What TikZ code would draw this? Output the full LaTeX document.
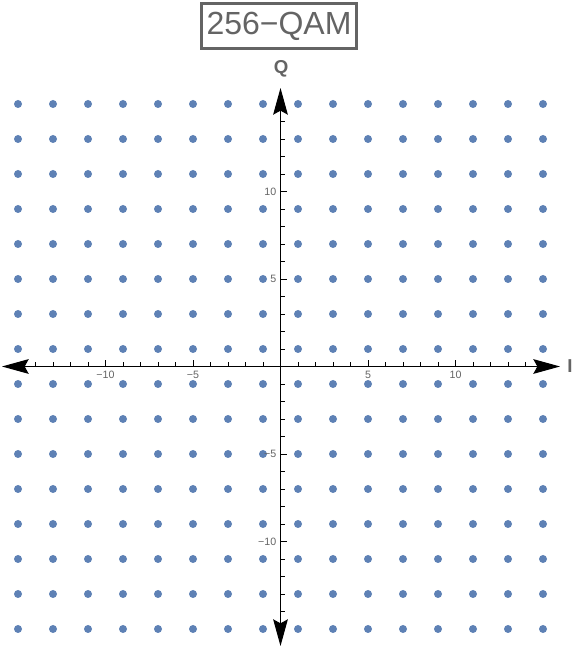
\documentclass[tikz,border=0pt]{standalone}
\usepackage{fontspec}
\setmainfont{Liberation Sans}
\usetikzlibrary{arrows.meta}
\definecolor{dotblue}{RGB}{94,129,181}
\definecolor{labelgray}{RGB}{100,100,100}
\begin{document}
\begin{tikzpicture}[x=13.125pt,y=13.125pt]
  \tikzset{ pt/.style={fill=dotblue},
    axis/.style={black,line width=0.8pt,
      {Stealth[length=20pt,width=11pt,inset=3pt]}-{Stealth[length=20pt,width=11pt,inset=3pt]}},
    tick/.style={black,line width=0.4pt},
    ticklab/.style={labelgray,font=\fontsize{8}{8}\selectfont,inner sep=1pt},
    axlab/.style={labelgray,font=\bfseries\fontsize{14}{14}\selectfont,inner sep=0pt},
  }
  \useasboundingbox (-16.029,-16.086) rectangle (16.886,20.943);

  % constellation points
  \foreach \i in {-15,-13,...,15}
    \foreach \q in {-15,-13,...,15}
      \fill[pt] (\i,\q) circle (3pt);

  % axes
  \coordinate (iminus) at (-15.914,0);
  \coordinate (iplus) at (15.971,0);
  \coordinate (qplus) at (0,15.914);
  \coordinate (qminus) at (0,-15.971);
  \draw[axis] (iminus) -- (iplus);
  \draw[axis] (qminus) -- (qplus);

  % ticks
  \foreach \t in {-14,...,14} {
    \draw[tick] (\t,0) -- ++(0,3pt);
    \draw[tick] (0,\t) -- ++(3pt,0);
  }
  \foreach \t in {-10,-5,5,10} {
    \draw[tick] (\t,0) -- ++(0,5pt);
    \draw[tick] (0,\t) -- ++(5pt,0);
  }
  \node[ticklab, anchor=north] (im10) at (-10,-0.15) {−10};
  \node[ticklab, anchor=north] (im5) at (-5,-0.15) {−5};
  \node[ticklab, anchor=north] (ip5) at (5,-0.15) {5};
  \node[ticklab, anchor=north] (ip10) at (10,-0.15) {10};
  \node[ticklab, anchor=east] (qp10) at (-0.15,10) {10};
  \node[ticklab, anchor=east] (qp5) at (-0.15,5) {5};
  \node[ticklab, anchor=east] (qm5) at (-0.15,-5) {−5};
  \node[ticklab, anchor=east] (qm10) at (-0.15,-10) {−10};

  % axis labels
  \node[axlab] (ilab) at (16.54,0.03) {I};
  \node[axlab] (qlab) at (0.029,17.0) {Q};

  % title
  \node (title) at (-0.086,19.457) [draw=labelgray,line width=2pt,text=labelgray,
    inner sep=0pt,minimum width=116pt,minimum height=34pt,
    font=\fontsize{24}{24}\selectfont] {256−QAM};
\end{tikzpicture}
\end{document}
